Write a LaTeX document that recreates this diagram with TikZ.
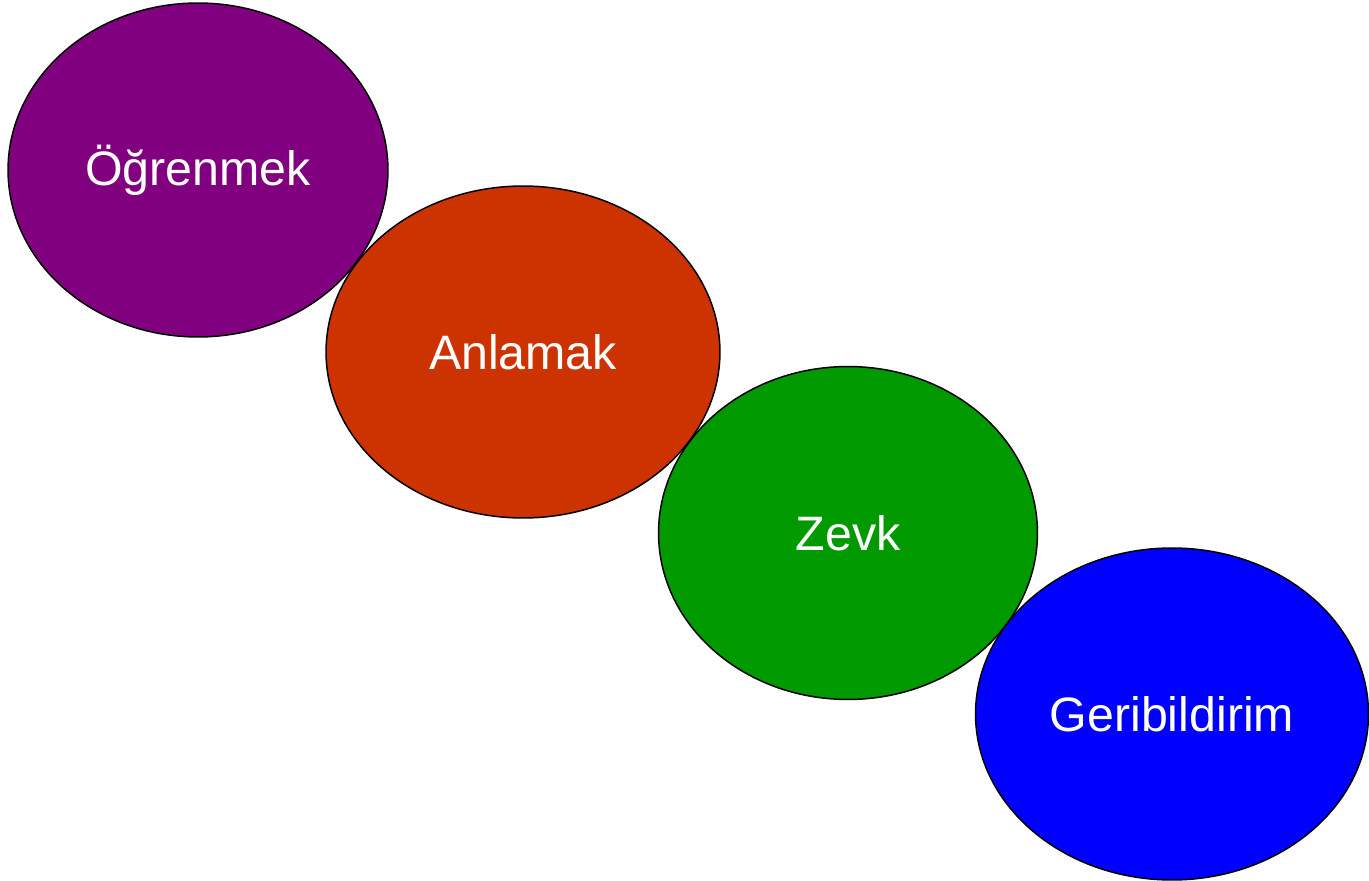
\documentclass[tikz,border=0pt]{standalone}
\usepackage{fontspec}
\setmainfont{Liberation Sans}
\usetikzlibrary{shapes.geometric}

\definecolor{mor}{HTML}{800080}
\definecolor{kiremit}{HTML}{CC3300}
\definecolor{yesil}{HTML}{009900}
\definecolor{mavi}{HTML}{0000FF}

\tikzset{
  bubble/.style={ellipse, draw=black, line width=0.85pt, inner sep=0pt,
    text=white, font=\fontsize{27.5}{33}\selectfont}
}

\begin{document}
\begin{tikzpicture}[x=0.02cm, y=-0.02cm]
\useasboundingbox (0,0) rectangle (1369,881);

% the four stages, top left to bottom right
\node[bubble, fill=mor, minimum width=7.6cm, minimum height=6.68cm] (ogren) at (198,170) {Öğrenmek};
\node[bubble, fill=kiremit, minimum width=7.88cm, minimum height=6.64cm] (anla) at (523,352) {Anlamak};
\node[bubble, fill=yesil, minimum width=7.58cm, minimum height=6.66cm] (zevk) at (848,533) {Zevk};
\node[bubble, fill=mavi, minimum width=7.86cm, minimum height=6.64cm] (geri) at (1172,714) {Geribildirim};

\end{tikzpicture}
\end{document}
